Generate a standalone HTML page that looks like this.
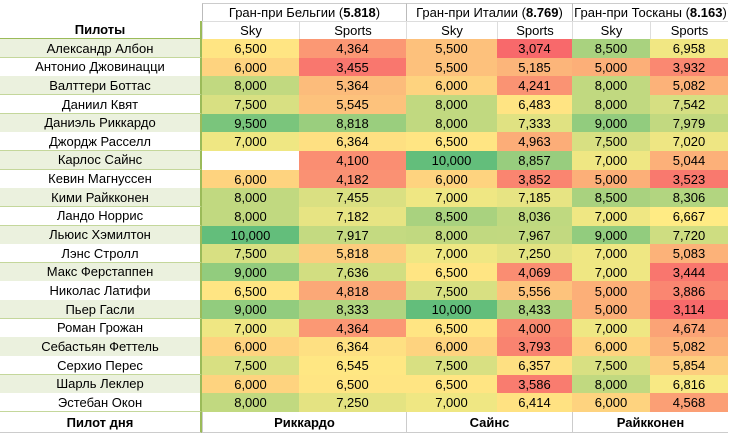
<!DOCTYPE html>
<html><head><meta charset="utf-8">
<style>
html,body{margin:0;padding:0;background:#fff;}
body{width:730px;height:433px;overflow:hidden;position:relative;font-family:"Liberation Sans","DejaVu Sans",sans-serif;font-size:13px;color:#000;}
.c{position:absolute;box-sizing:border-box;display:flex;align-items:center;justify-content:center;white-space:nowrap;}
</style></head>
<body>
<div id="t"></div>
<script>
const drivers=["Александр Албон","Антонио Джовинацци","Валттери Боттас","Даниил Квят","Даниэль Риккардо","Джордж Расселл","Карлос Сайнс","Кевин Магнуссен","Кими Райкконен","Ландо Норрис","Льюис Хэмилтон","Лэнс Стролл","Макс Ферстаппен","Николас Латифи","Пьер Гасли","Роман Грожан","Себастьян Феттель","Серхио Перес","Шарль Леклер","Эстебан Окон"];
const races=["Гран-при Бельгии","Гран-при Италии","Гран-при Тосканы"];
const raceRatings=["5.818","8.769","8.163"];
const driversOfDay=["Риккардо","Сайнс","Райкконен"];
const belSky=[6500,6000,8000,7500,9500,7000,null,6000,8000,8000,10000,7500,9000,6500,9000,7000,6000,7500,6000,8000];
const belSports=[4364,3455,5364,5545,8818,6364,4100,4182,7455,7182,7917,5818,7636,4818,8333,4364,6364,6545,6500,7250];
const itaSky=[5500,5500,6000,8000,8000,6500,10000,6000,7000,8500,8000,7000,6500,7500,10000,6500,6000,7500,6500,7000];
const itaSports=[3074,5185,4241,6483,7333,4963,8857,3852,7185,8036,7967,7250,4069,5556,8433,4000,3793,6357,3586,6414];
const tosSky=[8500,5000,8000,8000,9000,7500,7000,5000,8500,7000,9000,7000,7000,5000,5000,7000,6000,7500,8000,6000];
const tosSports=[6958,3932,5082,7542,7979,7020,5044,3523,8306,6667,7720,5083,3444,3886,3114,4674,5082,5854,6816,4568];
const cols=[belSky,belSports,itaSky,itaSports,tosSky,tosSports];
const colX=[202,299,406,497,572,650,728];
const rowTop=39,rowH=18.65;
const t=document.getElementById('t');
function cell(x,y,w,h,txt,style){const d=document.createElement('div');d.className='c';d.style.left=x+'px';d.style.top=y+'px';d.style.width=w+'px';d.style.height=h+'px';if(style)d.style.cssText+=style;if(txt!==undefined)d.innerHTML=txt;t.appendChild(d);return d;}
function pct(a,p){const s=a.filter(v=>v!=null).sort((x,y)=>x-y);const i=(s.length-1)*p,lo=Math.floor(i),hi=Math.ceil(i);return s[lo]+(s[hi]-s[lo])*(i-lo);}
const all=[].concat(...cols);
const mn=pct(all,0),md=pct(all,0.5),mx=pct(all,1);
const R=[248,105,107],Y=[255,235,132],G=[99,190,123];
function mix(a,b,f){return 'rgb('+a.map((v,i)=>Math.round(v+(b[i]-v)*f)).join(',')+')';}
function color(v){if(v<=md)return mix(R,Y,(v-mn)/(md-mn));return mix(Y,G,(v-md)/(mx-md));}
for(let r=0;r<3;r++){
 const d=cell(colX[r*2],3,colX[r*2+2]-colX[r*2],18,races[r]+' (<b>'+raceRatings[r]+'</b>)','border-left:1px solid #bbb;border-top:1px solid #ccc;');
 
 
}
const hn=cell(0,21,202,18,'<b>Пилоты</b>','border-right:2px solid #9bbb59;border-bottom:1px solid #9bbb59;');


for(let c=0;c<6;c++){
 const d=cell(colX[c],21,colX[c+1]-colX[c],18,c%2?'Sports':'Sky','border-left:1px solid #ddd;border-top:1px solid #ddd;');
 
 
}
drivers.forEach((n,i)=>{
 const y=rowTop+i*rowH;
 const d=cell(0,y,202,rowH+0.5,n,'background:'+(i%2===0?'#ebf1de':'#fff')+';border-right:2px solid #9bbb59;border-bottom:1px solid #c4d79b;');
 
 
 cols.forEach((arr,c)=>{
  const v=arr[i];
  const e=cell(colX[c],y,colX[c+1]-colX[c],rowH+0.5,v==null?'':v.toLocaleString('en-US'),'background:'+(v==null?'#fff':color(v))+';');
  
  
 });
});
const fy=rowTop+20*rowH;
const fn=cell(0,fy,202,433-fy,'<b>Пилот дня</b>','border-right:2px solid #9bbb59;border-bottom:1px solid #ccc;');


for(let r=0;r<3;r++){
 const d=cell(colX[r*2],fy,colX[r*2+2]-colX[r*2],433-fy,'<b>'+driversOfDay[r]+'</b>','border-left:1px solid #ccc;border-bottom:1px solid #ccc;');
 
 
}
</script>
</body></html>
